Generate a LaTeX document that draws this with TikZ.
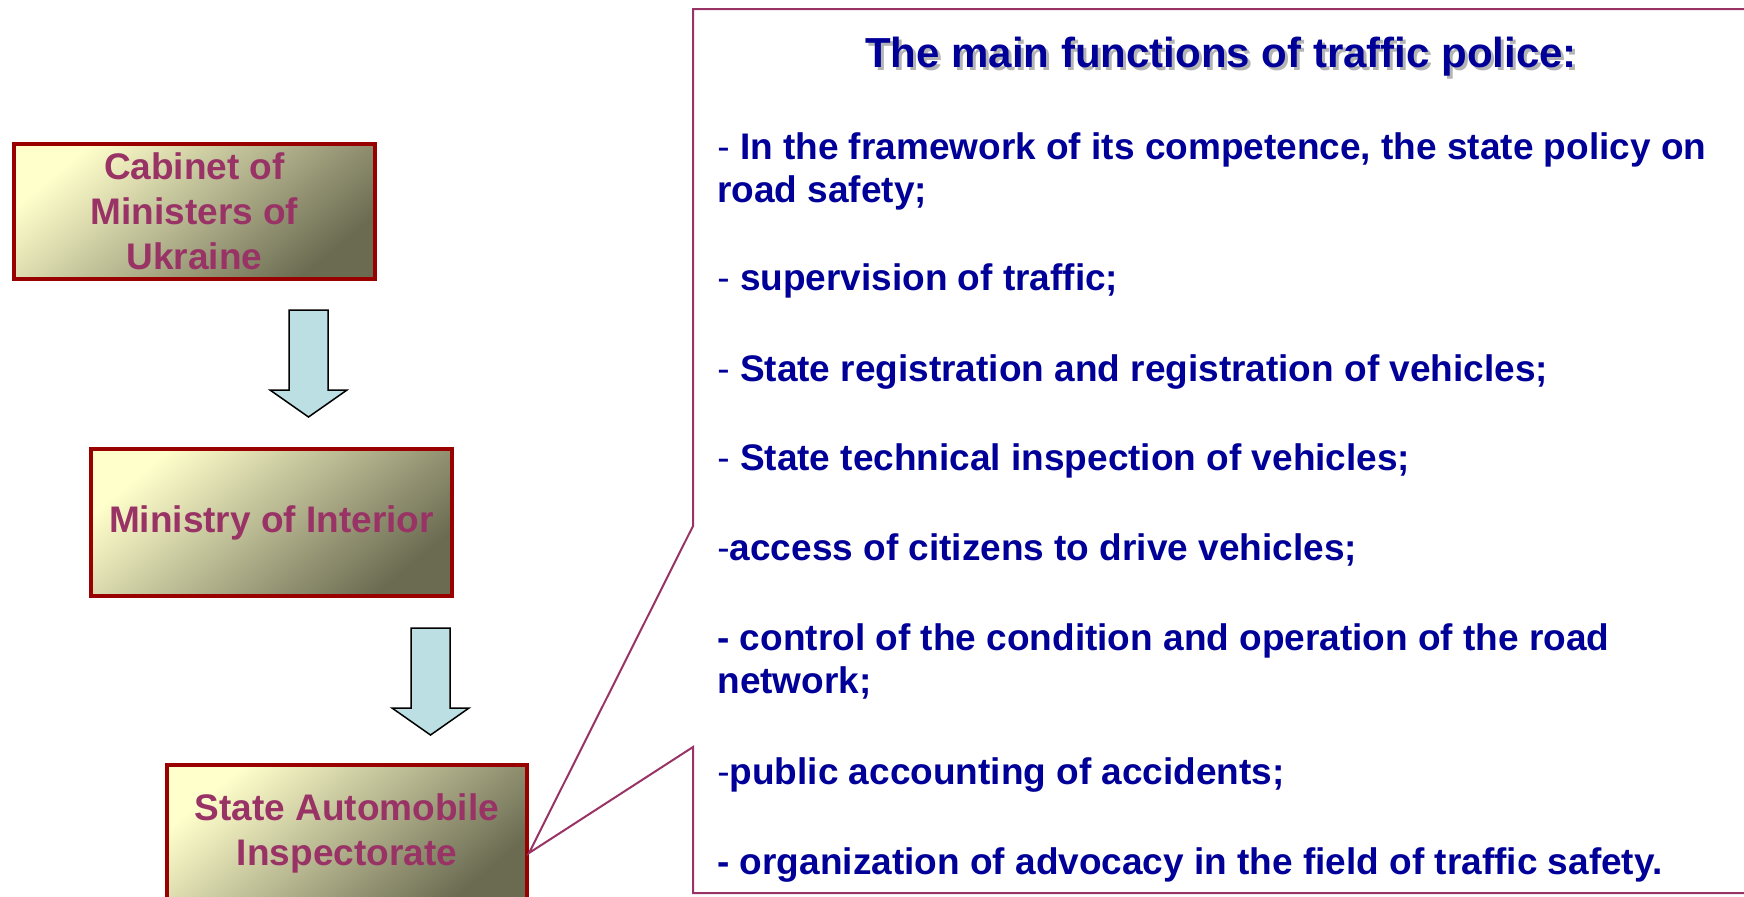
\documentclass[tikz,border=0pt]{standalone}
\usepackage{fontspec}
\setmainfont{Liberation Sans}
\usepackage{xcolor}
\usepackage{tikz}
\usetikzlibrary{calc}

\definecolor{boxlight}{HTML}{FFFFCC}
\definecolor{boxdark}{HTML}{6B6B52}
\definecolor{boxrim}{HTML}{990000}
\definecolor{boxtext}{HTML}{993366}
\definecolor{arrowfill}{HTML}{BBDFE3}
\definecolor{listblue}{HTML}{000099}
\definecolor{shadowgray}{HTML}{B4B4B4}

\tikzset{
  organ/.style={draw=boxrim, line width=2pt, top color=boxlight, bottom color=boxdark,
    shading angle=40, text=boxtext, font=\fontsize{18.5}{22.5}\selectfont\bfseries,
    align=center, inner sep=0pt},
  blockarrow/.style={draw=black, line width=0.75pt, fill=arrowfill, line join=miter},
  calloutline/.style={draw=boxtext, line width=1pt, fill=white},
  item/.style={anchor=base west, inner sep=0pt, text=listblue, align=left,
    font=\fontsize{18.5}{21.5}\selectfont\bfseries}
}
\newcommand{\thindash}{{\mdseries -}}

\begin{document}
\begin{tikzpicture}[x=0.5pt, y=-0.5pt]
      \useasboundingbox (0,0) rectangle (1744,896);
      \clip (0,0) rectangle (1744,896);
      % the three offices
      \node[organ, minimum width=180.5pt, minimum height=67.5pt] (cabinet) at (194.5, 211.5)
        {Cabinet of\\Ministers of\\Ukraine};
      \node[organ, minimum width=180.5pt, minimum height=73.5pt] (ministry) at (271.5, 522.5)
        {Ministry of Interior};
      \node[organ, minimum width=180pt, minimum height=68pt] (inspect) at (347, 833)
        {State Automobile\\Inspectorate};
      % block arrows
      \draw[blockarrow, shift={(308.5,310)}] (-19.5,0) -- (19.5,0) -- (19.5,80) -- (38.5,80)
        -- (0,107) -- (-38.5,80) -- (-19.5,80) -- cycle;
      \draw[blockarrow, shift={(430.5,628)}] (-19.5,0) -- (19.5,0) -- (19.5,80) -- (38.5,80)
        -- (0,107) -- (-38.5,80) -- (-19.5,80) -- cycle;
      % callout
      \coordinate (tip) at ($(inspect.east)+(0,-10pt)$);
      \draw[calloutline] (1750,9) -- (693,9) -- (693,526) -- (tip) -- (693,747)
        -- (693,893) -- (1750,893);
      % heading with its shadow
      \node[anchor=base, inner sep=0pt, text=shadowgray, font=\fontsize{21}{25}\selectfont\bfseries]
        (titleshadow) at (1224, 70) {The main functions of traffic police:};
      \node[anchor=base, inner sep=0pt, text=listblue, font=\fontsize{21}{25}\selectfont\bfseries]
        (title) at (1221, 67) {The main functions of traffic police:};
      % functions (base = last line)
      \node[item] (policy) at (717, 202)
        {\thindash{} In the framework of its competence, the state policy on\\road safety;};
      \node[item] (supervision) at (717, 290) {\thindash{} supervision of traffic;};
      \node[item] (registration) at (717, 381) {\thindash{} State registration and registration of vehicles;};
      \node[item] (inspection) at (717, 470) {\thindash{} State technical inspection of vehicles;};
      \node[item] (access) at (717, 560) {\thindash access of citizens to drive vehicles;};
      \node[item] (network) at (717, 693) {- control of the condition and operation of the road\\network;};
      \node[item] (accidents) at (717, 784) {\thindash public accounting of accidents;};
      \node[item] (advocacy) at (717, 874) {- organization of advocacy in the field of traffic safety.};
\end{tikzpicture}
\end{document}
